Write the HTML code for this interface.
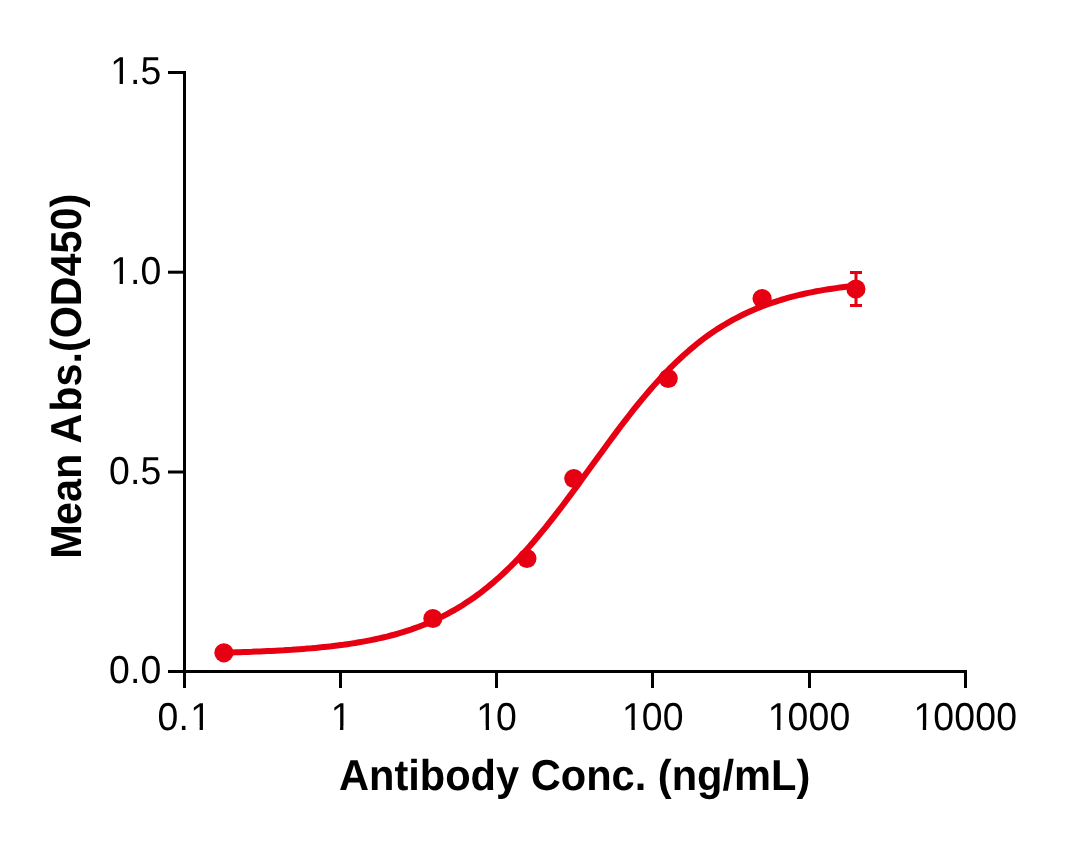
<!DOCTYPE html>
<html lang="en">
<head>
<meta charset="utf-8">
<title>Antibody binding curve</title>
<style>
html,body{margin:0;padding:0;background:#fff;}
body{width:1088px;height:843px;overflow:hidden;}
svg{display:block;}
text{font-family:"Liberation Sans",Arial,Helvetica,sans-serif;fill:#000;text-rendering:geometricPrecision;}
.tick text{font-size:37.4px;}
.title{font-size:41.6px;font-weight:bold;font-kerning:none;}
.ytitle{font-size:41.3px;}
</style>
</head>
<body>
<svg width="1088" height="843" viewBox="0 0 1088 843">
<rect x="0" y="0" width="1088" height="843" fill="#ffffff"/>
<g fill="#000">
<rect x="183" y="71" width="3" height="617"/>
<rect x="168" y="670" width="799" height="3"/>
<rect x="168" y="71" width="16" height="3"/>
<rect x="168" y="270.7" width="16" height="3"/>
<rect x="168" y="470.5" width="16" height="3"/>
<rect x="168" y="670" width="16" height="3"/>
<rect x="183" y="672" width="3" height="16"/>
<rect x="339" y="672" width="3" height="16"/>
<rect x="495" y="672" width="3" height="16"/>
<rect x="651" y="672" width="3" height="16"/>
<rect x="808" y="672" width="3" height="16"/>
<rect x="964" y="672" width="3" height="16"/>
</g>
<g class="tick">
<text transform="translate(0,84.30) scale(1,1.04)" x="110.21 129.93 140.49">1.5</text>
<text transform="translate(0,283.97) scale(1,1.04)" x="110.21 129.93 140.49">1.0</text>
<text transform="translate(0,483.63) scale(1,1.04)" x="108.96 129.93 140.49">0.5</text>
<text transform="translate(0,683.30) scale(1,1.04)" x="108.96 129.93 140.49">0.0</text>
<text transform="translate(0,729.70) scale(1,1.04)" x="157.44 178.40 190.21">0.1</text>
<text transform="translate(0,729.70) scale(1,1.04)" x="330.65">1</text>
<text transform="translate(0,729.70) scale(1,1.04)" x="476.34 496.11">10</text>
<text transform="translate(0,729.70) scale(1,1.04)" x="622.03 641.80 662.82">100</text>
<text transform="translate(0,729.70) scale(1,1.04)" x="767.72 787.49 808.51 829.53">1000</text>
<text transform="translate(0,729.70) scale(1,1.04)" x="913.40 933.18 954.20 975.22 996.25">10000</text>
</g>
<g fill="#fff">
<rect x="111.95" y="80.95" width="7.67" height="4.2"/>
<rect x="122.92" y="80.95" width="7.47" height="4.2"/>
<rect x="111.95" y="280.62" width="7.67" height="4.2"/>
<rect x="122.92" y="280.62" width="7.47" height="4.2"/>
<rect x="191.95" y="726.35" width="7.67" height="4.2"/>
<rect x="202.92" y="726.35" width="7.47" height="4.2"/>
<rect x="332.38" y="726.35" width="7.67" height="4.2"/>
<rect x="343.36" y="726.35" width="7.47" height="4.2"/>
<rect x="478.07" y="726.35" width="7.67" height="4.2"/>
<rect x="489.05" y="726.35" width="7.47" height="4.2"/>
<rect x="623.76" y="726.35" width="7.67" height="4.2"/>
<rect x="634.74" y="726.35" width="7.47" height="4.2"/>
<rect x="769.45" y="726.35" width="7.67" height="4.2"/>
<rect x="780.43" y="726.35" width="7.47" height="4.2"/>
<rect x="915.14" y="726.35" width="7.67" height="4.2"/>
<rect x="926.11" y="726.35" width="7.47" height="4.2"/>
</g>
<text class="title" transform="translate(574.6,790.3) scale(1,1.04)" text-anchor="middle">Antibody Conc. (ng/mL)</text>
<text class="title ytitle" transform="translate(80.9,376.2) rotate(-90) scale(1,1.05)" text-anchor="middle" dx="0 -0.8 0 0 0 -1 1.8">Mean Abs.(OD450)</text>
<g fill="none" stroke="#e60012">
<path d="M223.9,652.6 L227.9,652.5 L231.9,652.4 L235.8,652.3 L239.8,652.2 L243.8,652.0 L247.8,651.9 L251.7,651.8 L255.7,651.6 L259.7,651.5 L263.7,651.3 L267.6,651.1 L271.6,650.9 L275.6,650.7 L279.6,650.5 L283.5,650.3 L287.5,650.0 L291.5,649.8 L295.5,649.5 L299.4,649.2 L303.4,648.9 L307.4,648.6 L311.4,648.3 L315.4,647.9 L319.3,647.5 L323.3,647.1 L327.3,646.7 L331.3,646.3 L335.2,645.8 L339.2,645.3 L343.2,644.8 L347.2,644.2 L351.1,643.6 L355.1,643.0 L359.1,642.3 L363.1,641.6 L367.0,640.9 L371.0,640.1 L375.0,639.3 L379.0,638.4 L382.9,637.5 L386.9,636.6 L390.9,635.5 L394.9,634.5 L398.8,633.4 L402.8,632.2 L406.8,630.9 L410.8,629.6 L414.8,628.2 L418.7,626.8 L422.7,625.2 L426.7,623.6 L430.7,621.9 L434.6,620.2 L438.6,618.3 L442.6,616.4 L446.6,614.3 L450.5,612.2 L454.5,610.0 L458.5,607.6 L462.5,605.2 L466.4,602.6 L470.4,600.0 L474.4,597.2 L478.4,594.3 L482.3,591.3 L486.3,588.2 L490.3,584.9 L494.3,581.6 L498.3,578.1 L502.2,574.5 L506.2,570.7 L510.2,566.9 L514.2,562.9 L518.1,558.8 L522.1,554.6 L526.1,550.2 L530.1,545.8 L534.0,541.2 L538.0,536.5 L542.0,531.7 L546.0,526.9 L549.9,521.9 L553.9,516.8 L557.9,511.7 L561.9,506.5 L565.8,501.2 L569.8,495.9 L573.8,490.5 L577.8,485.1 L581.7,479.6 L585.7,474.1 L589.7,468.6 L593.7,463.1 L597.7,457.6 L601.6,452.2 L605.6,446.7 L609.6,441.3 L613.6,435.9 L617.5,430.6 L621.5,425.3 L625.5,420.1 L629.5,415.0 L633.4,409.9 L637.4,405.0 L641.4,400.1 L645.4,395.3 L649.3,390.7 L653.3,386.1 L657.3,381.7 L661.3,377.3 L665.2,373.1 L669.2,369.0 L673.2,365.1 L677.2,361.2 L681.2,357.5 L685.1,353.9 L689.1,350.4 L693.1,347.1 L697.1,343.8 L701.0,340.7 L705.0,337.7 L709.0,334.8 L713.0,332.1 L716.9,329.4 L720.9,326.9 L724.9,324.5 L728.9,322.1 L732.8,319.9 L736.8,317.8 L740.8,315.8 L744.8,313.8 L748.7,312.0 L752.7,310.2 L756.7,308.5 L760.7,306.9 L764.6,305.4 L768.6,304.0 L772.6,302.6 L776.6,301.3 L780.6,300.0 L784.5,298.9 L788.5,297.7 L792.5,296.7 L796.5,295.7 L800.4,294.7 L804.4,293.8 L808.4,292.9 L812.4,292.1 L816.3,291.3 L820.3,290.6 L824.3,289.9 L828.3,289.3 L832.2,288.7 L836.2,288.1 L840.2,287.5 L844.2,287.0 L848.1,286.5 L852.1,286.0 L856.1,285.6" stroke-width="6" stroke-linejoin="round" stroke-linecap="round"/>
<path d="M856 272.5V305.5M850 272.5H862M850 305.5H862" stroke-width="3"/>
</g>
<g fill="#e60012">
<circle cx="223.9" cy="652.8" r="9.6"/>
<circle cx="432.9" cy="618.5" r="9.6"/>
<circle cx="526.9" cy="558.5" r="9.6"/>
<circle cx="573.8" cy="478.5" r="9.6"/>
<circle cx="668.2" cy="378.5" r="9.6"/>
<circle cx="762.1" cy="298.5" r="9.6"/>
<circle cx="855.9" cy="289.0" r="9.6"/>
</g>
</svg>
</body>
</html>
